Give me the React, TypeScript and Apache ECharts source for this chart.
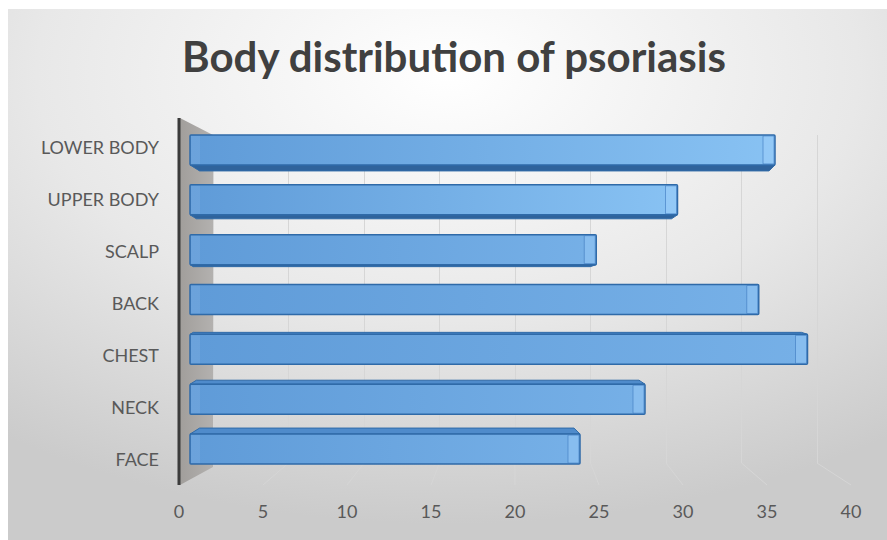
import React, { useEffect, useRef } from "react";
import * as echarts from "echarts";

// Data (categories listed bottom-to-top, as on the chart's category axis)
const categories = ["FACE", "NECK", "CHEST", "BACK", "SCALP", "UPPER BODY", "LOWER BODY"];
const values = [24, 28, 38, 35, 25, 30, 36];
const axisTicks = [0, 5, 10, 15, 20, 25, 30, 35, 40];
const chartTitle = "Body distribution of psoriasis";

// Layout (container coords; container sits at page 8,9)
const FRONT = { left: 171, width: 672, top: 112, height: 364 };
const BARS = { left: 182, width: 650, top: 116, height: 349 };
const BACK = { left: 205, width: 604, top: 126, height: 328 };
const AX_MAX = 40;

export default function App() {
  const ref = useRef<HTMLDivElement>(null);
  useEffect(() => {
    const chart = echarts.init(ref.current!, null, { renderer: "svg" });
    const font = "Lato, 'Liberation Sans', sans-serif";
    const frontFloorY = FRONT.top + FRONT.height;
    const backFloorY = BACK.top + BACK.height;

    const floorLines = axisTicks.filter((t) => t > 0).map((t) => ({
      type: "line",
      z: 0,
      silent: true,
      shape: {
        x1: BACK.left + (BACK.width * t) / AX_MAX,
        y1: backFloorY,
        x2: FRONT.left + (FRONT.width * t) / AX_MAX,
        y2: frontFloorY,
      },
      style: { stroke: "#d6d6d6", lineWidth: 1 },
    }));

    const option: any = {
      animation: false,
      backgroundColor: new echarts.graphic.RadialGradient(0.5, 0.12, 0.85, [
        { offset: 0, color: "#ffffff" },
        { offset: 0.55, color: "#e8e8e8" },
        { offset: 1, color: "#cbcbcb" },
      ]),
      title: {
        text: chartTitle,
        left: 441,
        top: 21,
        textAlign: "center",
        textStyle: { fontFamily: font, fontWeight: "bold", fontSize: 42, color: "#404040" },
      },
      grid: [
        { ...FRONT },
        { ...BARS },
        { ...BACK },
      ],
      xAxis: [
        {
          type: "value", gridIndex: 0, min: 0, max: AX_MAX, interval: 5,
          axisLine: { show: false }, axisTick: { show: false }, splitLine: { show: false },
          axisLabel: { color: "#595959", fontSize: 18, fontFamily: font, margin: 17 },
        },
        {
          type: "value", gridIndex: 1, min: 0, max: AX_MAX, show: false,
        },
        {
          type: "value", gridIndex: 2, min: 0, max: AX_MAX, interval: 5,
          axisLine: { show: false }, axisTick: { show: false }, axisLabel: { show: false },
          splitLine: { show: true, lineStyle: { color: "#d6d6d6", width: 1 } },
        },
      ],
      yAxis: [
        {
          type: "category", gridIndex: 0, data: categories,
          axisLine: { show: false }, axisTick: { show: false }, splitLine: { show: false },
          axisLabel: { color: "#595959", fontSize: 18, fontFamily: font, margin: 20 },
        },
        { type: "category", gridIndex: 1, data: categories, show: false },
        { type: "value", gridIndex: 2, min: 0, max: 1, show: false },
      ],
      graphic: [
        ...floorLines,
        {
          type: "polygon",
          z: 1,
          silent: true,
          shape: {
            points: [
              [FRONT.left + 1, FRONT.top - 3],
              [BACK.left, BACK.top],
              [BACK.left, backFloorY + 4],
              [FRONT.left + 1, frontFloorY],
            ],
          },
          style: {
            fill: new echarts.graphic.LinearGradient(0, 0, 1, 0, [
              { offset: 0, color: "#a19e9b" },
              { offset: 1, color: "#b3b1af" },
            ]),
          },
        },
        {
          type: "line",
          z: 5,
          silent: true,
          shape: { x1: FRONT.left, y1: FRONT.top - 3, x2: FRONT.left, y2: frontFloorY },
          style: { stroke: "#3b3b3b", lineWidth: 3 },
        },
      ],
      series: [
        {
          type: "custom",
          xAxisIndex: 1,
          yAxisIndex: 1,
          encode: { x: 0, y: 1 },
          data: values.map((v, i) => [v, i]),
          renderItem: (params: any, api: any) => {
            const v = api.value(0) as number;
            const i = api.value(1) as number;
            const p0 = api.coord([0, i]);
            const p1 = api.coord([v, i]);
            const yc = p1[1];
            const xL = p0[0];
            const xR = p1[0];
            const h = 30;
            const cap = 12;
            const yT = yc - h / 2;
            const yB = yc + h / 2;
            const d = (3 - i) * 2; // >0: top face shows, <0: underside shows
            const edge = "#2f6aa8";
            const children: any[] = [];
            if (d < 0) {
              const a = -d;
              children.push({
                type: "polygon",
                shape: { points: [[xL, yB], [xR, yB], [xR - cap * 0.5, yB + a], [xL + a * 1.6, yB + a]] },
                style: { fill: "#2f639c", stroke: edge, lineWidth: 1 },
              });
            } else if (d > 0) {
              children.push({
                type: "polygon",
                shape: { points: [[xL + d * 1.6, yT - d], [xR - cap * 0.5, yT - d], [xR, yT], [xL, yT]] },
                style: { fill: "#4f8bcb", stroke: edge, lineWidth: 1 },
              });
            }
            children.push({
              type: "rect",
              shape: { x: xL, y: yT, width: xR - xL, height: h, r: 1 },
              style: {
                fill: new echarts.graphic.LinearGradient(0, 0, 1, 0, [
                  { offset: 0, color: "#5f9bd8" },
                  { offset: 1, color: i >= 5 ? "#88c2f3" : "#76b0e7" },
                ]),
                stroke: edge,
                lineWidth: 1.5,
              },
            });
            children.push({
              type: "rect",
              shape: { x: xL + 1, y: yT + 1, width: 9, height: h - 2 },
              style: { fill: "rgba(255,255,255,0.08)" },
            });
            children.push({
              type: "rect",
              shape: { x: xR - cap, y: yT + 1, width: cap - 1, height: h - 2 },
              style: { fill: "rgba(170,215,255,0.35)", stroke: "rgba(60,120,190,0.6)", lineWidth: 1 },
            });
            return { type: "group", children };
          },
        },
      ],
    };
    chart.setOption(option);
    return () => chart.dispose();
  }, []);

  return (
    <div style={{ position: "absolute", left: 0, top: 0, width: 887, height: 540, background: "#ffffff" }}>
      <div ref={ref} style={{ position: "absolute", left: 8, top: 9, width: 879, height: 531 }} />
    </div>
  );
}
